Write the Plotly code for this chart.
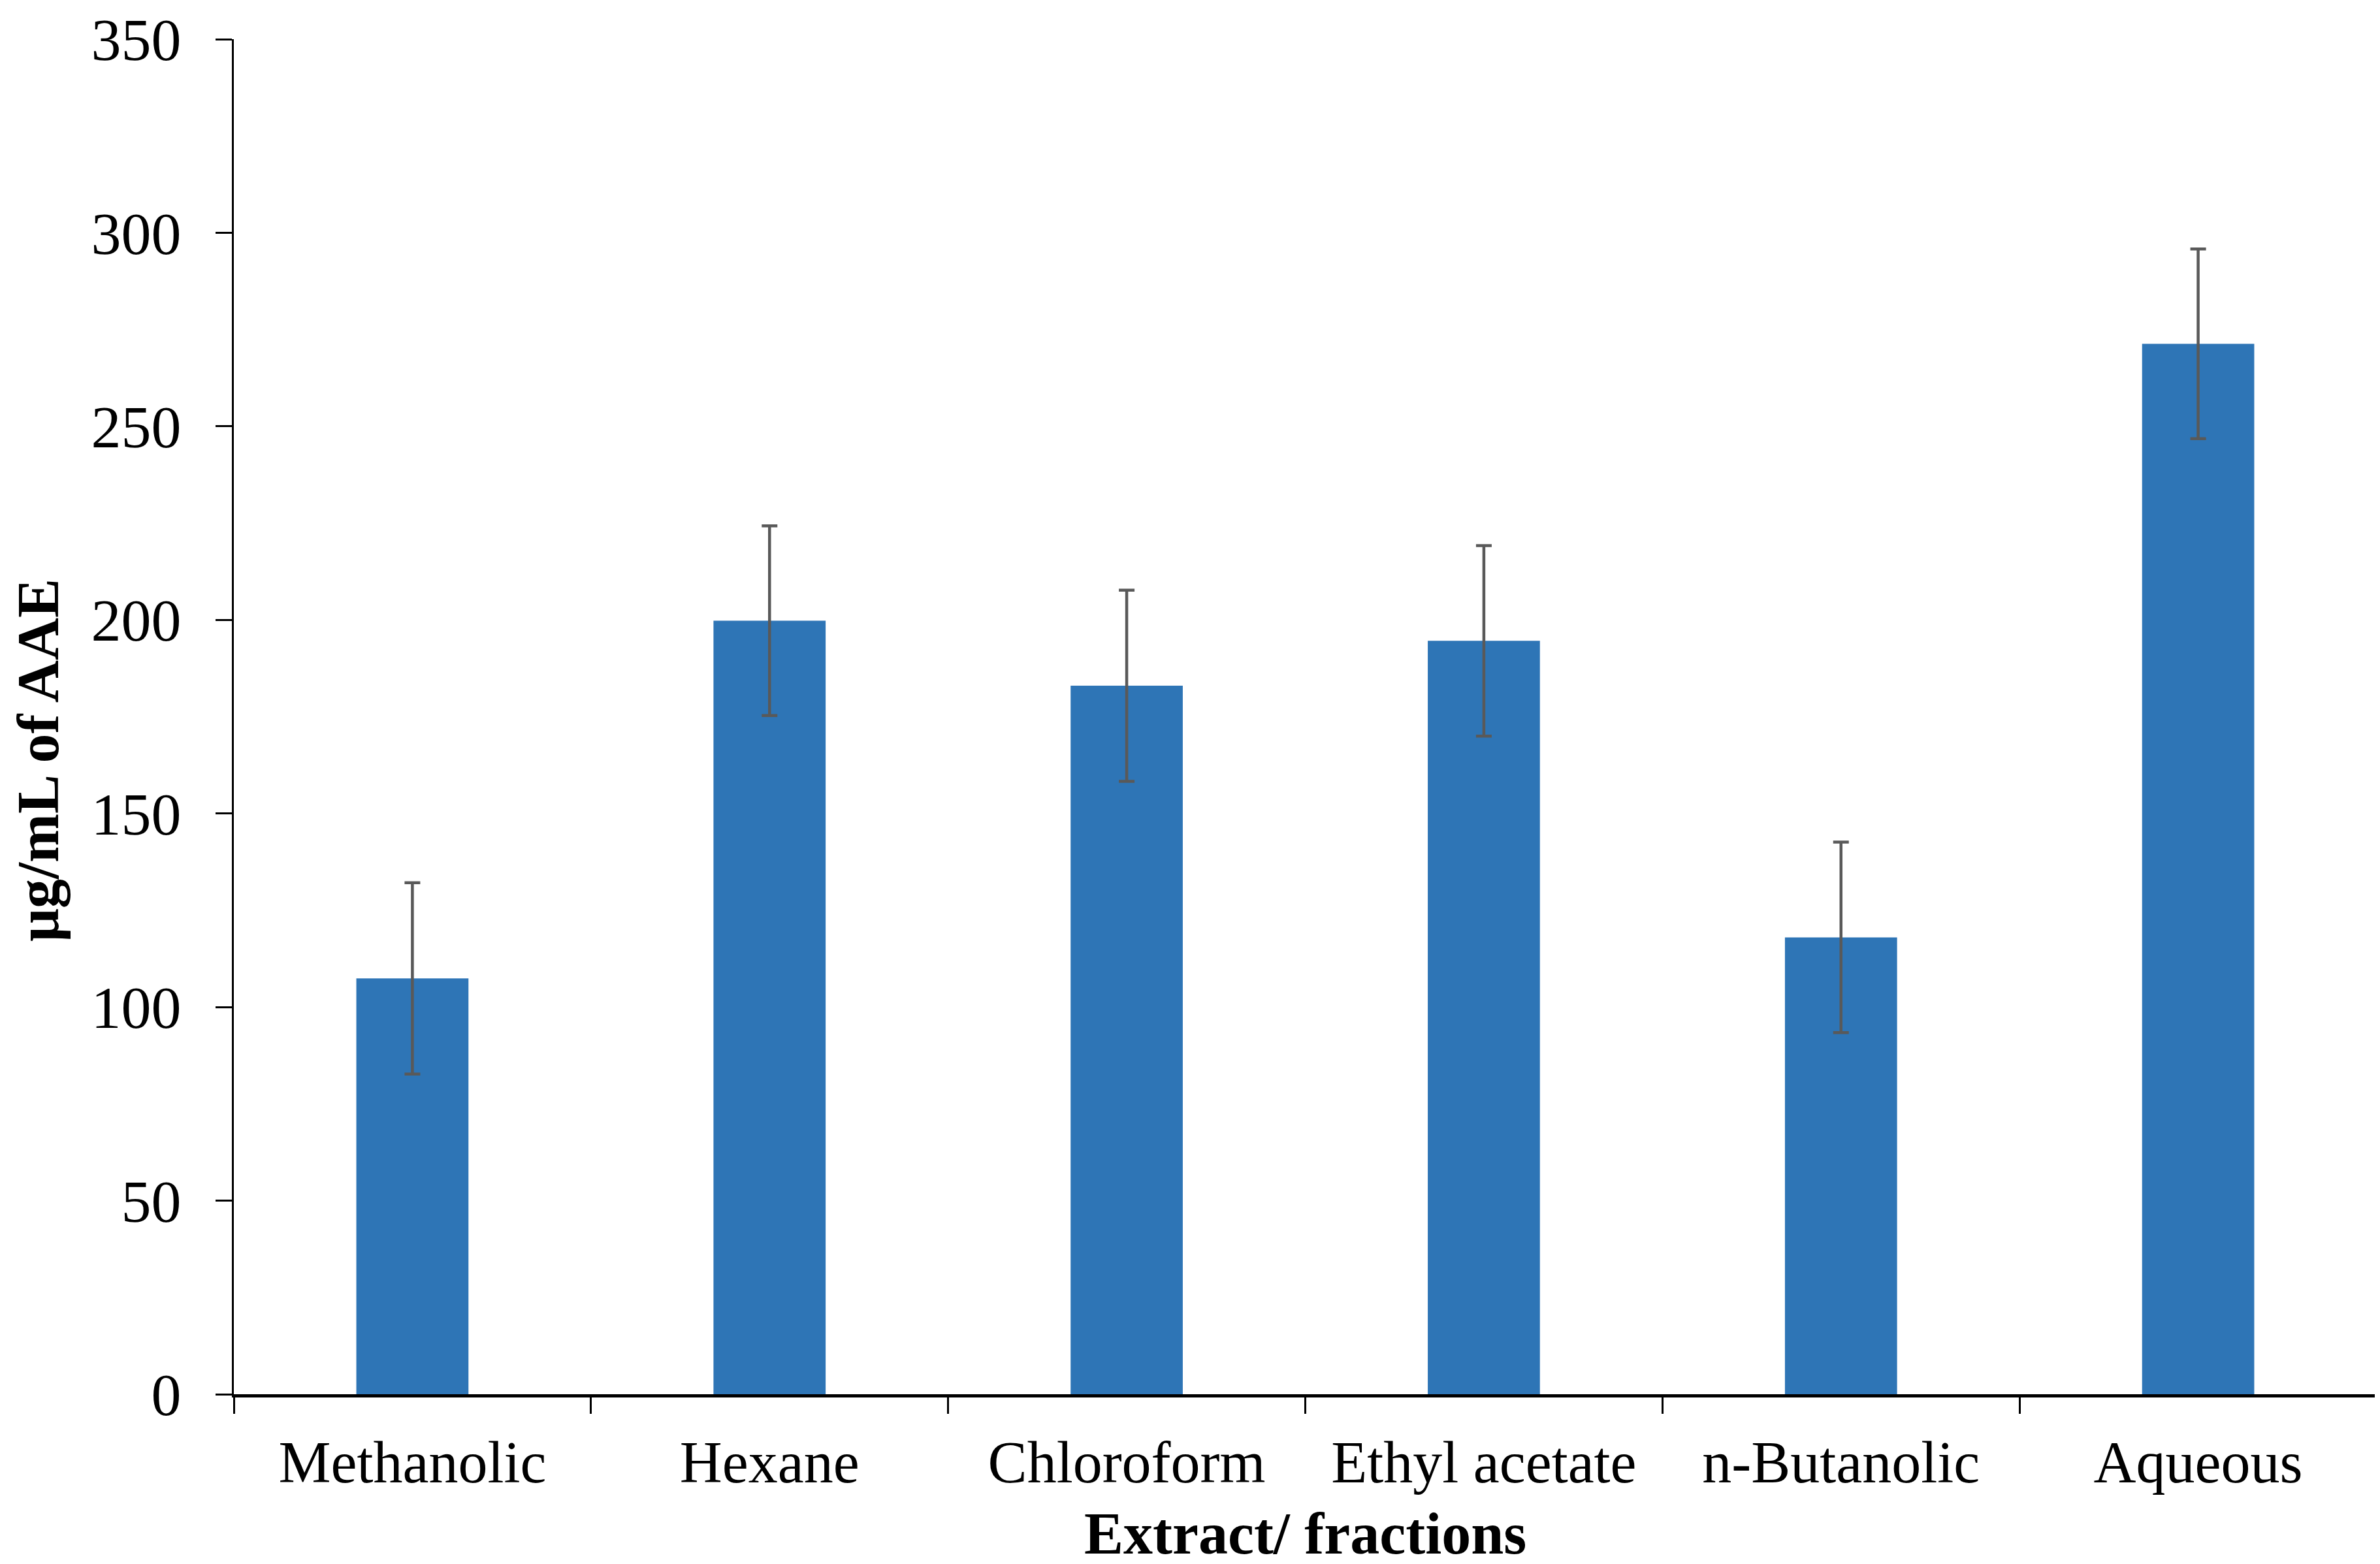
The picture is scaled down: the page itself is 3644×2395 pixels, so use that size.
import plotly.graph_objects as go

categories = ["Methanolic", "Hexane", "Chloroform", "Ethyl acetate", "n-Butanolic", "Aqueous"]
values = [107.4, 199.8, 183.0, 194.6, 118.0, 271.3]
errors = [24.7, 24.5, 24.7, 24.6, 24.6, 24.5]
y_ticks = [0, 50, 100, 150, 200, 250, 300, 350]
x_title = "<b>Extract/ fractions</b>"
y_title = "<b>μg/mL of AAE</b>"

FONT = "Liberation Serif"
W, H = 3644, 2395
L, R, T, B = 350, 13, 52, 268
PW, PH = W - L - R, H - T - B

fig = go.Figure()
fig.add_trace(go.Bar(
    x=categories,
    y=values,
    width=0.314,
    marker=dict(color="#2E75B6", line=dict(width=0)),
    error_y=dict(type="data", array=errors, visible=True, color="#595959", thickness=4.5, width=12),
))

fig.update_layout(
    width=W,
    height=H,
    paper_bgcolor="white",
    plot_bgcolor="white",
    showlegend=False,
    margin=dict(l=L, r=R, t=T, b=B, autoexpand=False),
    font=dict(family=FONT, color="black", size=90),
    xaxis=dict(
        type="category",
        showline=True, linecolor="black", linewidth=5,
        ticks="outside", tickson="boundaries", ticklen=25, tickwidth=3, tickcolor="black",
        tickfont=dict(family=FONT, size=90, color="black"),
        ticklabelstandoff=22,
        showgrid=False, zeroline=False,
    ),
    yaxis=dict(
        range=[0, 350], tickvals=y_ticks,
        showline=True, linecolor="black", linewidth=3,
        ticks="outside", ticklen=25, tickwidth=3, tickcolor="black",
        tickfont=dict(family=FONT, size=92, color="black"),
        ticklabelstandoff=34,
        showgrid=False, zeroline=False,
    ),
    annotations=[
        dict(text=x_title, xref="paper", yref="paper",
             x=(1990 - L) / PW, y=(T + PH - 2340) / PH,
             xanchor="center", yanchor="middle", showarrow=False,
             font=dict(family=FONT, size=90, color="black")),
        dict(text=y_title, xref="paper", yref="paper",
             x=(50 - L) / PW, y=(T + PH - 1156) / PH,
             xanchor="center", yanchor="middle", showarrow=False, textangle=-90,
             font=dict(family=FONT, size=90, color="black")),
    ],
)

fig.write_html("out.html")
